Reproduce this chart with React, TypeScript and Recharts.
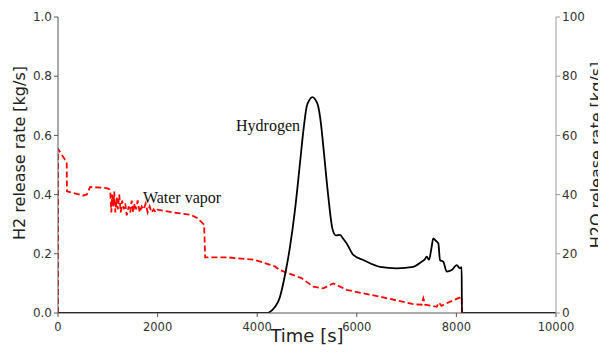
import { LineChart, Line, XAxis, YAxis, ReferenceDot, Label } from "recharts";

// Hydrogen release rate [kg/s], left axis
const h2Time = [0, 4190, 4300, 4458, 4560, 4659, 4760, 4859, 4930, 4993, 5050, 5107, 5170, 5227, 5280, 5328, 5428, 5510, 5580, 5663, 5730, 5797, 5930, 6131, 6466, 6800, 7135, 7302, 7360, 7403, 7450, 7500, 7536, 7580, 7637, 7671, 7738, 7805, 7905, 8006, 8072, 8106, 8110, 10000];
const h2Rate = [0, 0, 0.01, 0.055, 0.13, 0.224, 0.35, 0.506, 0.62, 0.697, 0.72, 0.729, 0.72, 0.697, 0.64, 0.562, 0.393, 0.285, 0.262, 0.264, 0.25, 0.235, 0.196, 0.179, 0.156, 0.151, 0.156, 0.173, 0.18, 0.19, 0.18, 0.22, 0.252, 0.245, 0.235, 0.179, 0.173, 0.14, 0.145, 0.162, 0.151, 0.155, 0, 0];

// Water vapor release rate [kg/s], right axis
const h2oTime = [0, 0, 141, 175, 180, 511, 580, 646, 983, 1040, 1050, 1070, 1090, 1110, 1130, 1150, 1180, 1200, 1230, 1260, 1290, 1320, 1350, 1380, 1420, 1450, 1480, 1510, 1540, 1570, 1600, 1640, 1680, 1720, 1760, 1800, 1840, 1880, 1920, 1960, 2000, 2300, 2665, 2800, 2934, 2955, 3405, 3944, 4348, 4458, 4886, 5127, 5328, 5450, 5529, 5797, 6466, 7135, 7300, 7336, 7370, 7604, 7650, 7700, 7805, 8106, 8110, 10000];
const h2oRate = [0, 55.4, 51.8, 51, 41.1, 39.7, 40, 42.6, 42.2, 41.7, 41, 34, 40, 36, 41, 34, 39, 35, 40, 34, 38, 35, 37, 33, 36, 34, 38, 34, 37, 35, 38, 34, 36, 35, 37, 34, 36, 34, 35, 34, 34.9, 34, 33.2, 32, 29.8, 18.8, 18.8, 18, 15.8, 14.5, 11.8, 8.9, 8.3, 9.4, 10, 7.8, 5.5, 3, 2.8, 5, 2.8, 2.1, 3.5, 2.4, 3.3, 5.5, 0, 0];

const xTicks = [0, 2000, 4000, 6000, 8000, 10000];
const leftTicks = [0, 0.2, 0.4, 0.6, 0.8, 1.0];
const rightTicks = [0, 20, 40, 60, 80, 100];

const h2Data = h2Time.map((t, i) => ({ t, v: h2Rate[i] }));
const h2oData = h2oTime.map((t, i) => ({ t, v: h2oRate[i] }));

const font = "'DejaVu Sans', sans-serif";
const serif = "'Liberation Serif', serif";
const tickStyle = { fontSize: 12, fill: "#333", fontFamily: font };

const App = () => {
  return (
    <div style={{ margin: -8, width: 606, height: 354, background: "#fff" }}>
      <LineChart width={606} height={354} margin={{ top: 17, right: 0, bottom: 0, left: 0 }}>
        <XAxis
          xAxisId="x"
          type="number"
          dataKey="t"
          domain={[0, 10000]}
          ticks={xTicks}
          height={41}
          stroke="#555"
          tick={{ ...tickStyle, fontSize: 11.5 }}
          tickSize={4}
          tickMargin={6}
          allowDataOverflow
        >
          <Label value="Time [s]" position="center" dy={2} style={{ fontSize: 18, fill: "#222", fontFamily: font }} />
        </XAxis>
        <XAxis xAxisId="top" orientation="top" type="number" domain={[0, 10000]} height={0} stroke="#999" tick={false} tickLine={false} />
        <YAxis
          yAxisId="left"
          type="number"
          domain={[0, 1]}
          ticks={leftTicks}
          tickFormatter={(v: number) => v.toFixed(1)}
          width={58}
          stroke="#555"
          tick={tickStyle}
          tickSize={4}
          allowDataOverflow
        >
          <Label value="H2 release rate [kg/s]" position="center" angle={-90} dx={-10} dy={-12} style={{ fontSize: 16, fill: "#222", fontFamily: font }} />
        </YAxis>
        <YAxis
          yAxisId="right"
          orientation="right"
          type="number"
          domain={[0, 100]}
          ticks={rightTicks}
          width={50}
          stroke="#999"
          tick={tickStyle}
          tickSize={4}
          allowDataOverflow
        >
          <Label value="H2O release rate [kg/s]" position="center" angle={-90} dx={15} dy={-10} style={{ fontSize: 16, fill: "#222", fontFamily: font }} />
        </YAxis>
        <Line
          xAxisId="x"
          yAxisId="right"
          data={h2oData}
          dataKey="v"
          type="linear"
          stroke="#ff0000"
          strokeWidth={1.8}
          strokeDasharray="6 3"
          dot={false}
          isAnimationActive={false}
        />
        <Line
          xAxisId="x"
          yAxisId="left"
          data={h2Data}
          dataKey="v"
          type="monotone"
          stroke="#000"
          strokeWidth={1.8}
          dot={false}
          isAnimationActive={false}
        />
        <ReferenceDot xAxisId="x" yAxisId="left" x={4217} y={0.635} r={0} fill="none" stroke="none">
          <Label value="Hydrogen" position="center" style={{ fontSize: 16, fill: "#111", fontFamily: serif }} />
        </ReferenceDot>
        <ReferenceDot xAxisId="x" yAxisId="left" x={2490} y={0.392} r={0} fill="none" stroke="none">
          <Label value="Water vapor" position="center" style={{ fontSize: 16, fill: "#111", fontFamily: serif }} />
        </ReferenceDot>
      </LineChart>
    </div>
  );
};

export default App;
